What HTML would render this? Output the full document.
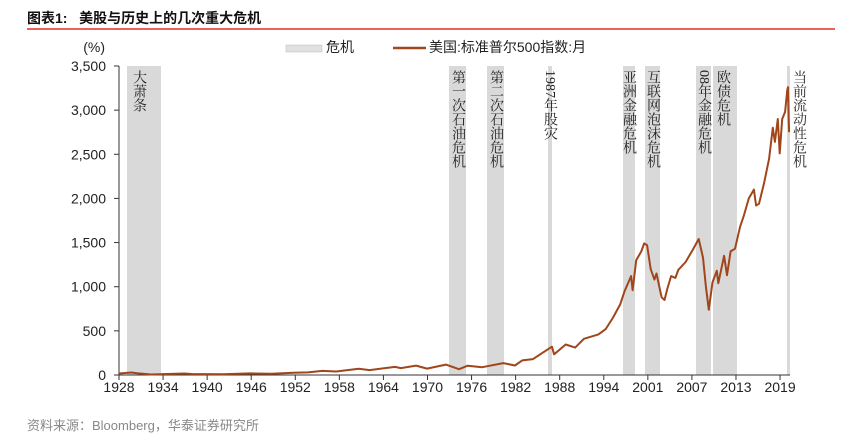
<!DOCTYPE html>
<html><head><meta charset="utf-8"><style>
body{margin:0;background:#fff;width:864px;height:437px;overflow:hidden;position:relative;font-family:"Liberation Sans","Noto Sans CJK SC",sans-serif}
.t{position:absolute;left:27px;top:8px;font-size:14px;font-weight:bold;color:#111}
.v{position:absolute;writing-mode:vertical-rl;font-family:"Liberation Serif","Noto Serif CJK SC",serif;font-size:14px;color:#222;line-height:15px;letter-spacing:0px}
</style></head><body>
<div class="t">图表1:&nbsp;&nbsp;&nbsp;美股与历史上的几次重大危机</div>
<div style="position:absolute;left:27px;top:28px;width:808px;height:2px;background:#e8645a"></div>
<svg width="864" height="437" style="position:absolute;left:0;top:0" font-family="Liberation Sans, Noto Sans CJK SC, sans-serif">
<g fill="#d9d9d9">
<rect x="127" y="66" width="34" height="309"/>
<rect x="449" y="66" width="17" height="309"/>
<rect x="487" y="66" width="17" height="309"/>
<rect x="548" y="66" width="4" height="309"/>
<rect x="623" y="66" width="12" height="309"/>
<rect x="645" y="66" width="15" height="309"/>
<rect x="696" y="66" width="15" height="309"/>
<rect x="713" y="66" width="24" height="309"/>
<rect x="787" y="66" width="3" height="309"/>
</g>
<g stroke="#333" stroke-width="1" fill="none">
<line x1="119" y1="66" x2="119" y2="375"/>
<line x1="119" y1="375" x2="790" y2="375"/>
</g>
<g id="ticks" stroke="#333"></g>
<g id="lbl" font-size="14" fill="#222"></g>
<text x="105" y="52" font-size="14" text-anchor="end" fill="#222">(%)</text>
<rect x="286" y="45" width="36" height="7" fill="#e0e0e0" stroke="#bbb" stroke-width="0.5"/>
<text x="326" y="52" font-size="14" fill="#222">危机</text>
<line x1="393" y1="48" x2="426" y2="48" stroke="#a0461a" stroke-width="2.5"/>
<text x="429" y="52" font-size="14" fill="#222">美国:标准普尔500指数:月</text>
<path id="ln" fill="none" stroke="#a0461a" stroke-width="2" stroke-linejoin="round"/>
<text x="27" y="430" font-size="13" fill="#888">资料来源：Bloomberg，华泰证券研究所</text>
</svg>
<div class="v" style="left:131px;top:70px">大萧条</div>
<div class="v" style="left:450px;top:70px">第一次石油危机</div>
<div class="v" style="left:488px;top:70px">第二次石油危机</div>
<div class="v" style="left:542px;top:70px">1987年股灾</div>
<div class="v" style="left:621px;top:70px">亚洲金融危机</div>
<div class="v" style="left:645px;top:70px">互联网泡沫危机</div>
<div class="v" style="left:696px;top:70px">08年金融危机</div>
<div class="v" style="left:715px;top:70px">欧债危机</div>
<div class="v" style="left:791px;top:70px">当前流动性危机</div>
<script>
var X=function(y){return 119+(y-1928)*7.264},Y=function(v){return 375-v*0.08829};
var ns="http://www.w3.org/2000/svg",t=document.getElementById("ticks"),l=document.getElementById("lbl");
function el(g,n,a,tx){var e=document.createElementNS(ns,n);for(var k in a)e.setAttribute(k,a[k]);if(tx)e.textContent=tx;g.appendChild(e);}
for(var v=0;v<=3500;v+=500){var s=v>=1000?(Math.floor(v/1000)+","+String(v%1000).padStart(3,"0")):String(v);el(l,"text",{x:106,y:Y(v)+5,"text-anchor":"end"},s);el(t,"line",{x1:114,x2:119,y1:Y(v),y2:Y(v)});}
var yl=["1928","1934","1940","1946","1952","1958","1964","1970","1976","1982","1988","1994","2001","2007","2013","2019"];
for(var i=0;i<yl.length;i++){var x=119+i*44.07;el(l,"text",{x:x,y:392,"text-anchor":"middle"},yl[i]);el(t,"line",{x1:x,x2:x,y1:375,y2:380});}
var d=[[1928,17],[1929.7,28],[1930.5,20],[1932.4,6],[1934,10],[1937,17],[1938,11],[1942.3,8],[1946,18],[1949,15],[1952,25],[1954,30],[1956,46],[1957.9,40],[1961,70],[1962.5,55],[1966,92],[1966.8,78],[1968.9,106],[1970.4,72],[1973,118],[1974.8,66],[1976,105],[1978,88],[1980.9,135],[1982.5,108],[1983.5,165],[1985,180],[1987.6,320],[1987.9,235],[1989.5,345],[1990.8,310],[1992,410],[1994,460],[1995,520],[1996,650],[1997,800],[1997.6,950],[1998.5,1120],[1998.7,960],[1999.2,1300],[1999.9,1400],[2000.3,1490],[2000.7,1470],[2001.2,1200],[2001.7,1080],[2002,1150],[2002.7,880],[2003.1,850],[2003.5,980],[2004,1120],[2004.6,1100],[2005,1190],[2006,1280],[2007,1420],[2007.8,1540],[2008.4,1330],[2008.8,1000],[2009.2,740],[2009.7,1050],[2010.3,1180],[2010.5,1040],[2011.3,1350],[2011.7,1130],[2012.2,1400],[2012.8,1430],[2013.5,1680],[2014,1800],[2014.7,2000],[2015.4,2100],[2015.7,1920],[2016.1,1940],[2016.8,2170],[2017.5,2450],[2018,2800],[2018.3,2640],[2018.7,2900],[2018.95,2510],[2019.3,2900],[2019.7,2980],[2020.0,3230],[2020.1,3260],[2020.2,2900],[2020.25,2750]];
document.getElementById("ln").setAttribute("d","M"+d.map(function(p){return X(p[0]).toFixed(1)+","+Y(p[1]).toFixed(1)}).join("L"));
</script>
</body></html>
